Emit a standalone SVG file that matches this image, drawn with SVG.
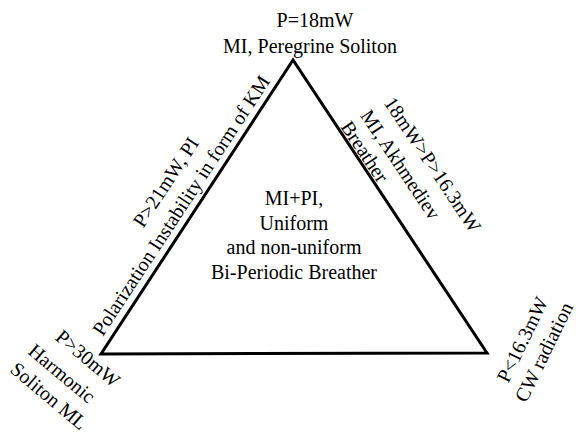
<svg xmlns="http://www.w3.org/2000/svg" width="576" height="435" viewBox="0 0 576 435">
  <rect width="576" height="435" fill="#fff"/>

  <!-- phase triangle -->
  <g id="connectors">
    <polygon points="293,60 101,354 487,353" fill="none" stroke="#000" stroke-width="3" stroke-linejoin="miter"/>
  </g>

  <!-- top vertex -->
  <g id="node-top" text-anchor="middle">
    <text x="315" y="27" font-family="Liberation Serif" font-size="20">P=18mW</text>
    <text x="310" y="53" font-family="Liberation Serif" font-size="20">MI, Peregrine Soliton</text>
  </g>

  <!-- left edge -->
  <g id="node-left-edge" text-anchor="middle">
    <text transform="translate(171.5,185.8) rotate(-56.7)" font-family="Liberation Serif" font-size="20">P&gt;21mW, PI</text>
    <text transform="translate(186.7,209.1) rotate(-56.7)" font-family="Liberation Serif" font-size="20">Polarization Instability in form of KM</text>
  </g>

  <!-- right edge -->
  <g id="node-right-edge" text-anchor="middle">
    <text transform="translate(427,168.3) rotate(56.3)" font-family="Liberation Serif" font-size="20">18mW&gt;P&gt;16.3mW</text>
    <text transform="translate(395,168.3) rotate(56.3)" font-family="Liberation Serif" font-size="20">MI, Akhmediev</text>
    <text transform="translate(359,155.3) rotate(56.3)" font-family="Liberation Serif" font-size="20">Breather</text>
  </g>

  <!-- centre -->
  <g id="node-center" text-anchor="middle">
    <text x="294" y="205" font-family="Liberation Serif" font-size="20">MI+PI,</text>
    <text x="294" y="230" font-family="Liberation Serif" font-size="20">Uniform</text>
    <text x="294" y="254" font-family="Liberation Serif" font-size="20">and non-uniform</text>
    <text x="294" y="279" font-family="Liberation Serif" font-size="20">Bi-Periodic Breather</text>
  </g>

  <!-- bottom-left vertex -->
  <g id="node-bottom-left" text-anchor="middle">
    <text transform="translate(83.6,363.6) rotate(40)" font-family="Liberation Serif" font-size="20">P&gt;30mW</text>
    <text transform="translate(57.6,378.6) rotate(40)" font-family="Liberation Serif" font-size="20">Harmonic</text>
    <text transform="translate(44.6,401.1) rotate(40)" font-family="Liberation Serif" font-size="20">Soliton ML</text>
  </g>

  <!-- bottom-right vertex -->
  <g id="node-bottom-right" text-anchor="middle">
    <text transform="translate(528.5,342.5) rotate(-64)" font-family="Liberation Serif" font-size="20">P&lt;16.3mW</text>
    <text transform="translate(550,355) rotate(-64)" font-family="Liberation Serif" font-size="20">CW radiation</text>
  </g>
</svg>
